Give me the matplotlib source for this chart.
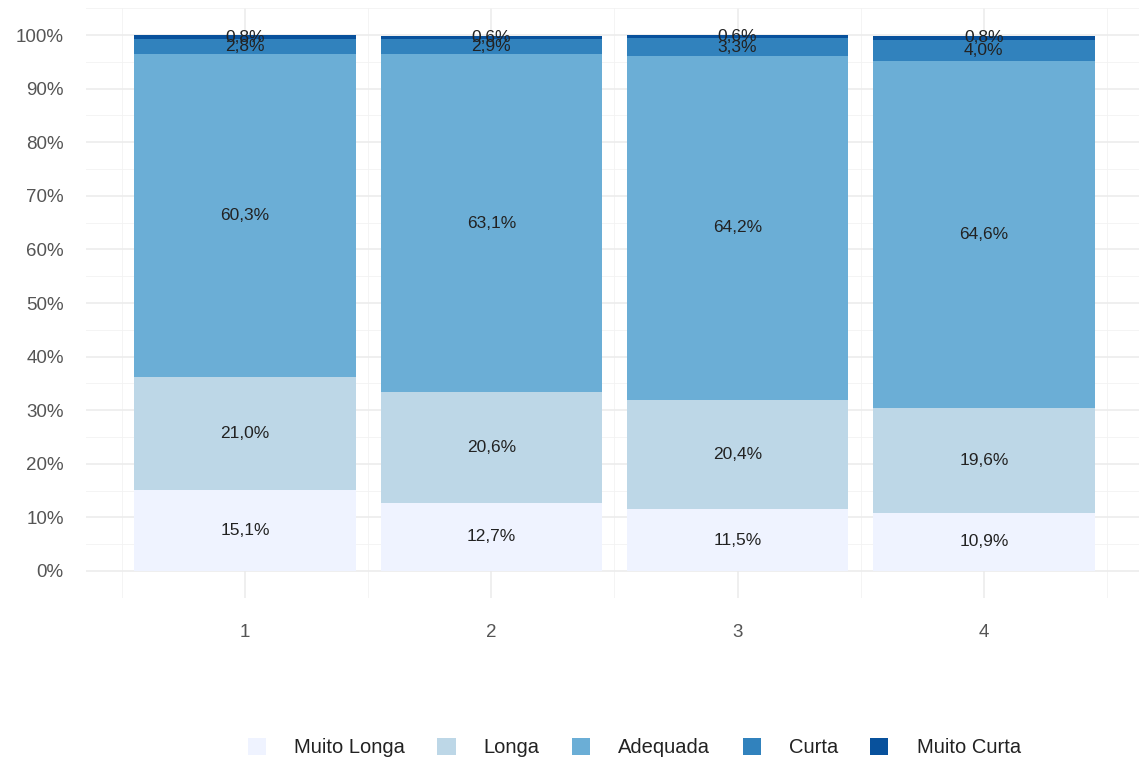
import matplotlib.pyplot as plt
import numpy as np
from matplotlib.patches import Patch

plt.rcParams['font.family'] = ['Liberation Sans', 'DejaVu Sans']

groups = ['1', '2', '3', '4']
categories = ['Muito Longa', 'Longa', 'Adequada', 'Curta', 'Muito Curta']
muito_longa = [15.1, 12.7, 11.5, 10.9]
longa = [21.0, 20.6, 20.4, 19.6]
adequada = [60.3, 63.1, 64.2, 64.6]
curta = [2.8, 2.9, 3.3, 4.0]
muito_curta = [0.8, 0.6, 0.6, 0.8]
colors = ['#EFF3FF', '#BDD7E7', '#6BAED6', '#3182BD', '#08519C']

series = [muito_longa, longa, adequada, curta, muito_curta]

fig = plt.figure(figsize=(11.39, 7.63), dpi=100)
ax = fig.add_axes([86 / 1139, 1 - 597.75 / 763, 1 - 86 / 1139, (597.75 - 8.25) / 763])

x = np.arange(1, len(groups) + 1)
bottom = np.zeros(len(groups))
for vals, col in zip(series, colors):
    vals = np.array(vals)
    ax.bar(x, vals, 0.9, bottom=bottom, color=col, zorder=2)
    for xi, b, v in zip(x, bottom, vals):
        ax.text(xi, b + v / 2, f'{v:.1f}%'.replace('.', ','), ha='center', va='center',
                fontsize=12.5, color='#222222', zorder=3)
    bottom += vals

ax.set_xlim(0.354, 4.63)
ax.set_ylim(-5, 105)
ax.set_yticks(np.arange(0, 101, 10))
ax.set_yticklabels([f'{v}%' for v in range(0, 101, 10)])
ax.set_yticks(np.arange(-5, 106, 10), minor=True)
ax.set_xticks(x)
ax.set_xticklabels(groups)
ax.set_xticks(np.arange(0.5, 4.6, 1), minor=True)

ax.grid(which='major', color='#EBEBEB', linewidth=1.1, zorder=0)
ax.grid(which='minor', color='#F2F2F2', linewidth=0.6, zorder=0)
ax.set_axisbelow(True)
for s in ax.spines.values():
    s.set_visible(False)
ax.tick_params(which='both', length=0)
ax.tick_params(axis='y', labelsize=13.5, labelcolor='#555555', pad=16)
ax.tick_params(axis='x', labelsize=13.5, labelcolor='#555555', pad=19)

handles = [Patch(facecolor=c, edgecolor='none') for c in colors]
fig.legend(handles, categories, loc='center', bbox_to_anchor=(0.557, 0.02), ncol=5,
           frameon=False, fontsize=14.5, handlelength=0.9, handleheight=0.9,
           handletextpad=1.4, columnspacing=1.6, labelcolor='#222222')

plt.savefig('out.png', dpi=100)
